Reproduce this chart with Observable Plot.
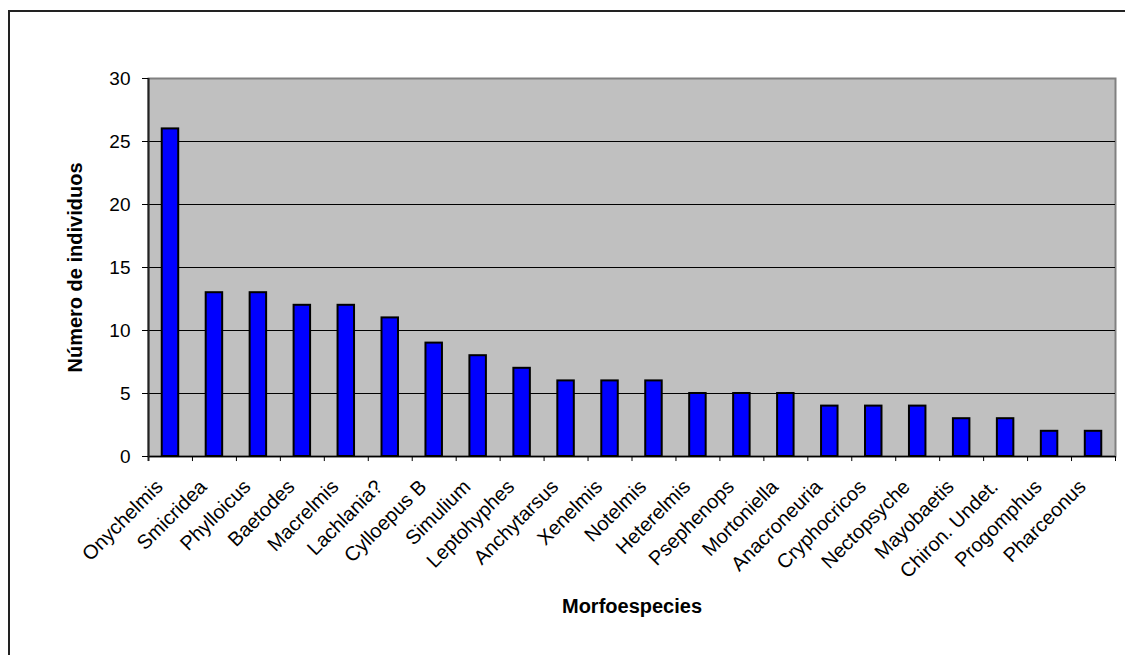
<!DOCTYPE html>
<html>
<head>
<meta charset="utf-8">
<script src="https://cdn.jsdelivr.net/npm/d3@7"></script>
<script src="https://cdn.jsdelivr.net/npm/@observablehq/plot@0.6"></script>
<style>
  html, body { margin: 0; padding: 0; background: #fff; }
  #wrap { position: relative; width: 1125px; height: 655px; overflow: hidden; }
  #border { position: absolute; left: 8px; top: 10px; right: -10px; bottom: -10px; border-left: 2px solid #222; border-top: 2px solid #222; pointer-events: none; }
  #wrap svg { position: absolute; left: 0; top: 0; }
</style>
</head>
<body>
<div id="wrap"><div id="border"></div></div>
<script>
const categories = ["Onychelmis", "Smicridea", "Phylloicus", "Baetodes", "Macrelmis", "Lachlania?", "Cylloepus B", "Simulium", "Leptohyphes", "Anchytarsus", "Xenelmis", "Notelmis", "Heterelmis", "Psephenops", "Mortoniella", "Anacroneuria", "Cryphocricos", "Nectopsyche", "Mayobaetis", "Chiron. Undet.", "Progomphus", "Pharceonus"];
const counts = [26, 13, 13, 12, 12, 11, 9, 8, 7, 6, 6, 6, 5, 5, 5, 4, 4, 4, 3, 3, 2, 2];
const yTicks = [0, 5, 10, 15, 20, 25, 30];
const xTitle = "Morfoespecies";
const yTitle = "Número de individuos";

const data = categories.map((name, i) => ({name, count: counts[i]}));

const W = 1125, H = 655, mL = 148, mR = 10, mT = 78, mB = 199;
const step = (W - mL - mR) / categories.length;
const font = "'Liberation Sans', Arial, sans-serif";

const chart = Plot.plot({
  width: W, height: H,
  marginLeft: mL, marginRight: mR, marginTop: mT, marginBottom: mB,
  style: {fontFamily: font, fontSize: "19px", background: "transparent", color: "#000"},
  x: {domain: categories, paddingInner: 0.625, paddingOuter: 0.3125, round: false, label: null},
  y: {domain: [0, 30], label: null},
  marks: [
    Plot.frame({fill: "#C0C0C0", stroke: "#808080", strokeWidth: 2}),
    Plot.ruleY(yTicks.filter(v => v > 0 && v < 30), {stroke: "#000", strokeWidth: 1}),
    Plot.barY(data, {x: "name", y: "count", fill: "#0000FF", stroke: "#000", strokeWidth: 2}),
    Plot.ruleY([0], {stroke: "#000", strokeWidth: 1.5}),
    Plot.ruleX(categories, {x: d => d, y1: 0, y2: -0.4, dx: -step / 2, stroke: "#000", strokeWidth: 1}),
    Plot.ruleX([categories[categories.length - 1]], {x: d => d, y1: 0, y2: -0.4, dx: step / 2, stroke: "#000", strokeWidth: 1}),
    Plot.ruleX([categories[0]], {x: d => d, y1: -0.4, y2: 30, dx: -step / 2, stroke: "#222", strokeWidth: 2}),
    Plot.axisY({ticks: yTicks, tickSize: 6, tickPadding: 12, fontSize: 19}),
    Plot.axisX({tickSize: 0, tickRotate: -45, tickPadding: 27, dx: -11, fontSize: 20}),
    Plot.text([yTitle], {frameAnchor: "left", textAnchor: "middle", rotate: -90, dx: -73, fontWeight: "bold", fontSize: 20}),
    Plot.text([xTitle], {frameAnchor: "bottom", dy: 156, fontWeight: "bold", fontSize: 20})
  ]
});
document.getElementById("wrap").appendChild(chart);
</script>
</body>
</html>
